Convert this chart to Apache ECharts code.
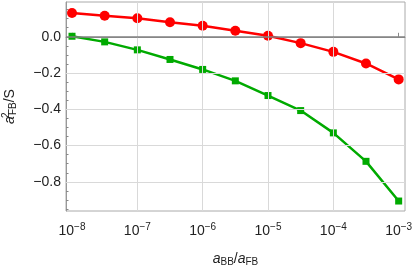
<!DOCTYPE html>
<html><head><meta charset="utf-8">
<script src="https://cdn.jsdelivr.net/npm/echarts@6/dist/echarts.min.js"></script>
<style>html,body{margin:0;padding:0;background:#fff}#c{width:415px;height:268px}</style>
</head><body><div id="c"></div>
<script>
const xValues = [1e-8, 3.162e-8, 1e-7, 3.162e-7, 1e-6, 3.162e-6, 1e-5, 3.162e-5, 1e-4, 3.162e-4, 1e-3];
const redValues = [0.131, 0.116, 0.102, 0.080, 0.061, 0.033, 0.006, -0.035, -0.083, -0.147, -0.235];
const greenValues = [0.003, -0.028, -0.072, -0.125, -0.180, -0.243, -0.324, -0.407, -0.530, -0.687, -0.906];
const xTickExponents = [-8, -7, -6, -5, -4, -3];
const xGridExponents = [-7, -6, -5, -4];
const yTicks = [-0.8, -0.6, -0.4, -0.2, 0.0];
const yMinorTicks = [-0.95, -0.9, -0.85, -0.75, -0.7, -0.65, -0.55, -0.5, -0.45, -0.35, -0.3, -0.25, -0.15, -0.1, -0.05, 0.05, 0.1, 0.15];

const FONT = 'Liberation Sans';
const lx = xValues.map(v => Math.log10(v));
const chart = echarts.init(document.getElementById('c'), null, {renderer: 'canvas'});
const XMIN = -8.092, XMAX = -2.903, YMIN = -0.961, YMAX = 0.192;
const minus = s => String(s).replace('-', '\u2212');

chart.setOption({
  animation: false,
  grid: {left: 66, right: 10, top: 2, bottom: 57, containLabel: false, outerBoundsMode: 'none',
    show: true, borderColor: '#aaa', borderWidth: 1, backgroundColor: 'transparent'},
  xAxis: {
    type: 'value', min: XMIN, max: XMAX,
    axisLine: {show: true, lineStyle: {color: '#999', width: 1}},
    axisTick: {show: true, inside: true, length: 4, customValues: xTickExponents, lineStyle: {color: '#888'}},
    axisLabel: {customValues: xTickExponents, margin: 11, color: '#222', fontFamily: FONT, fontSize: 14,
      formatter: v => '10{s|' + minus(Math.round(v)) + '}',
      rich: {s: {fontSize: 10, fontFamily: FONT, color: '#222', padding: [0, 0, 9, 0]}}},
    splitLine: {show: false},
    name: '{i|a}{b|BB}{n|/}{i|a}{b|FB}', nameLocation: 'middle', nameGap: 40,
    nameTextStyle: {rich: {
      i: {fontSize: 14, fontStyle: 'italic', fontFamily: FONT, color: '#222'},
      b: {fontSize: 10, fontFamily: FONT, color: '#222', padding: [6, 0, 0, 0]},
      n: {fontSize: 14, fontFamily: FONT, color: '#222'}}}
  },
  yAxis: [{
    type: 'value', min: YMIN, max: YMAX,
    axisLine: {show: true, lineStyle: {color: '#999', width: 1}},
    axisTick: {show: true, inside: true, length: 4, customValues: yTicks, lineStyle: {color: '#888'}},
    axisLabel: {customValues: yTicks, margin: 5, color: '#222', fontFamily: FONT, fontSize: 14,
      formatter: v => minus(v.toFixed(1))},
    splitLine: {show: false},
    name: '{i|a}{p|2}{b|FB}{n|/S}', nameLocation: 'middle', nameGap: 47, nameRotate: 90,
    nameTextStyle: {rich: {
      i: {fontSize: 14, fontStyle: 'italic', fontFamily: FONT, color: '#222'},
      p: {fontSize: 10, fontFamily: FONT, color: '#222', width: 0, padding: [0, 0, 8, 1]},
      b: {fontSize: 10, fontFamily: FONT, color: '#222', padding: [7, 0, 0, 0]},
      n: {fontSize: 14, fontFamily: FONT, color: '#222'}}}
  }, {
    type: 'value', min: YMIN, max: YMAX, position: 'left',
    axisLine: {show: false},
    axisTick: {show: true, inside: true, length: 2.5, customValues: yMinorTicks, lineStyle: {color: '#888'}},
    axisLabel: {show: false},
    splitLine: {show: false}
  }],
  series: [{
    type: 'line', data: [], silent: true,
    markLine: {silent: true, symbol: 'none', label: {show: false}, animation: false,
      data: [
        ...xGridExponents.map(e => ({xAxis: e, lineStyle: {color: '#d9d9d9', width: 1, type: 'solid'}})),
        ...yTicks.filter(t => t !== 0).map(t => ({yAxis: t, lineStyle: {color: '#d9d9d9', width: 1, type: 'solid'}})),
        {yAxis: 0, lineStyle: {color: '#808080', width: 1.5, type: 'solid'}}
      ]}
  }, {
    type: 'line', data: lx.map((x, i) => [x, greenValues[i]]),
    symbol: 'rect', symbolSize: 7, itemStyle: {color: '#00aa00'},
    lineStyle: {color: '#00aa00', width: 2.5}, z: 3
  }, {
    type: 'line', data: lx.map((x, i) => [x, redValues[i]]),
    symbol: 'circle', symbolSize: 10, itemStyle: {color: '#ff0000'},
    lineStyle: {color: '#ff0000', width: 2.5}, z: 4
  }]
});
</script></body></html>
